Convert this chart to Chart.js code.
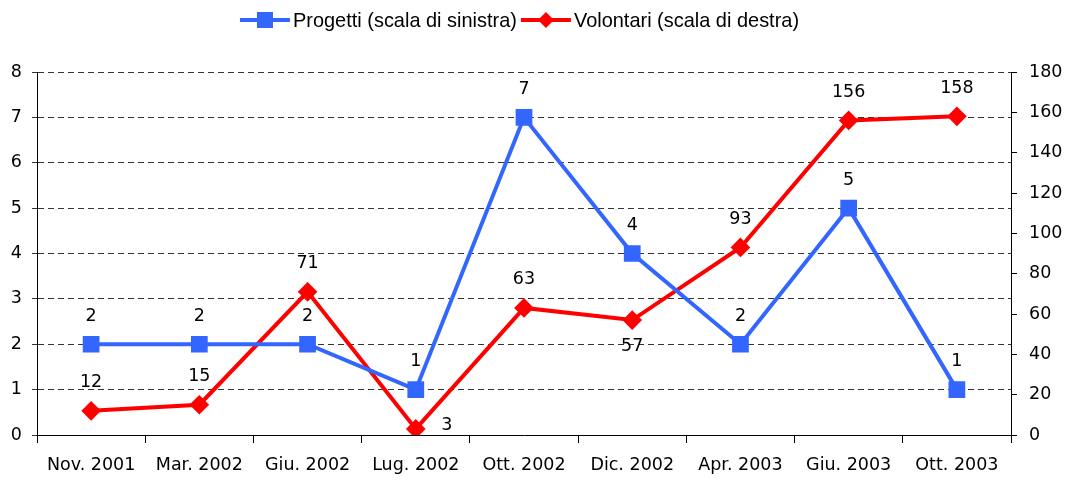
<!DOCTYPE html>
<html>
<head>
<meta charset="utf-8">
<script src="https://cdn.jsdelivr.net/npm/chart.js@4/dist/chart.umd.min.js"></script>
<style>
  html, body { margin: 0; padding: 0; background: #fff; }
  #wrap { width: 1067px; height: 482px; }
</style>
</head>
<body>
<div id="wrap"><canvas id="chart" width="1067" height="482"></canvas></div>
<script>
const periodi = ['Nov. 2001', 'Mar. 2002', 'Giu. 2002', 'Lug. 2002', 'Ott. 2002', 'Dic. 2002', 'Apr. 2003', 'Giu. 2003', 'Ott. 2003'];
const progetti = [2, 2, 2, 1, 7, 4, 2, 5, 1];
const volontari = [12, 15, 71, 3, 63, 57, 93, 156, 158];
const nomeProgetti = 'Progetti (scala di sinistra)';
const nomeVolontari = 'Volontari (scala di destra)';

// where each value label sits relative to its point
const posProgetti = ['top', 'top', 'top', 'top', 'top', 'top', 'top', 'top', 'top'];
const posVolontari = ['top', 'top', 'top', 'right', 'top', 'bottom', 'top', 'top', 'top'];

const tickFont = { family: 'DejaVu Sans', size: 17.5 };

const valueLabels = {
    id: 'valueLabels',
    afterDatasetsDraw(chart) {
        const ctx = chart.ctx;
        ctx.save();
        ctx.font = '17.5px "DejaVu Sans"';
        ctx.fillStyle = '#000';
        ctx.textAlign = 'center';
        ctx.textBaseline = 'middle';
        chart.data.datasets.forEach((ds, i) => {
            const meta = chart.getDatasetMeta(i);
            const pos = i == 0 ? posProgetti : posVolontari;
            meta.data.forEach((pt, j) => {
                let x = pt.x, y = pt.y;
                if (pos[j] == 'top') y -= 28;
                else if (pos[j] == 'bottom') y += 26;
                else if (pos[j] == 'right') { x += 31; y -= 3; }
                ctx.fillText(String(ds.data[j]), x, y);
            });
        });
        ctx.restore();
    }
};

// legend drawn by hand, text squeezed a bit to look like a narrow font
const legendTop = {
    id: 'legendTop',
    afterDraw(chart) {
        const ctx = chart.ctx;
        const sx = 0.95;
        ctx.save();
        ctx.font = '21px "Liberation Sans"';
        ctx.textBaseline = 'middle';
        const items = chart.data.datasets.map(ds => ({ ds, w: 53 + ctx.measureText(ds.label).width * sx + 4 }));
        let total = items.reduce((s, it) => s + it.w, 0);
        let x = (chart.width - total) / 2 - 12;
        const y = 20;
        items.forEach(it => {
            ctx.strokeStyle = it.ds.borderColor;
            ctx.lineWidth = 4;
            ctx.beginPath();
            ctx.moveTo(x, y);
            ctx.lineTo(x + 50, y);
            ctx.stroke();
            ctx.fillStyle = it.ds.borderColor;
            if (it.ds.pointStyle == 'rect') {
                ctx.fillRect(x + 25 - 8, y - 8, 16, 16);
            } else {
                ctx.beginPath();
                ctx.moveTo(x + 25, y - 8);
                ctx.lineTo(x + 33, y);
                ctx.lineTo(x + 25, y + 8);
                ctx.lineTo(x + 17, y);
                ctx.closePath();
                ctx.fill();
            }
            ctx.fillStyle = '#000';
            ctx.save();
            ctx.translate(x + 53, y + 1);
            ctx.scale(sx, 1);
            ctx.fillText(it.ds.label, 0, 0);
            ctx.restore();
            x += it.w;
        });
        ctx.restore();
    }
};

new Chart(document.getElementById('chart'), {
    type: 'line',
    data: {
        labels: periodi,
        datasets: [
            {
                label: nomeProgetti,
                data: progetti,
                yAxisID: 'y',
                borderColor: '#3366FF',
                backgroundColor: '#3366FF',
                borderWidth: 4,
                pointStyle: 'rect',
                pointRadius: 9,
                pointHoverRadius: 9,
                tension: 0
            },
            {
                label: nomeVolontari,
                data: volontari,
                yAxisID: 'y2',
                borderColor: '#FF0000',
                backgroundColor: '#FF0000',
                borderWidth: 4,
                pointStyle: 'rectRot',
                pointRadius: 7,
                pointHoverRadius: 7,
                tension: 0
            }
        ]
    },
    options: {
        responsive: false,
        animation: false,
        layout: { padding: { top: 72, left: 0, right: 0, bottom: 0 } },
        plugins: {
            legend: { display: false },
            tooltip: { enabled: false }
        },
        scales: {
            x: {
                offset: true,
                grid: { offset: true, drawOnChartArea: false, color: '#000', tickLength: 8 },
                border: { color: '#000', width: 1 },
                ticks: { font: tickFont, color: '#000', maxRotation: 0, padding: 12 },
                afterFit(s) { s.height = 47; }
            },
            y: {
                position: 'left',
                min: 0, max: 8,
                ticks: { stepSize: 1, font: tickFont, color: '#000', padding: 10 },
                grid: { color: '#333', tickLength: 5, drawTicks: true },
                border: { color: '#000', width: 1, dash: [6, 4] },
                afterFit(s) { s.width = 37; }
            },
            y2: {
                position: 'right',
                min: 0, max: 180,
                ticks: { stepSize: 20, font: tickFont, color: '#000', padding: 12 },
                grid: { drawOnChartArea: false, color: '#000', tickLength: 6 },
                border: { color: '#000', width: 1 },
                afterFit(s) { s.width = 56; }
            }
        }
    },
    plugins: [valueLabels, legendTop]
});
</script>
</body>
</html>
